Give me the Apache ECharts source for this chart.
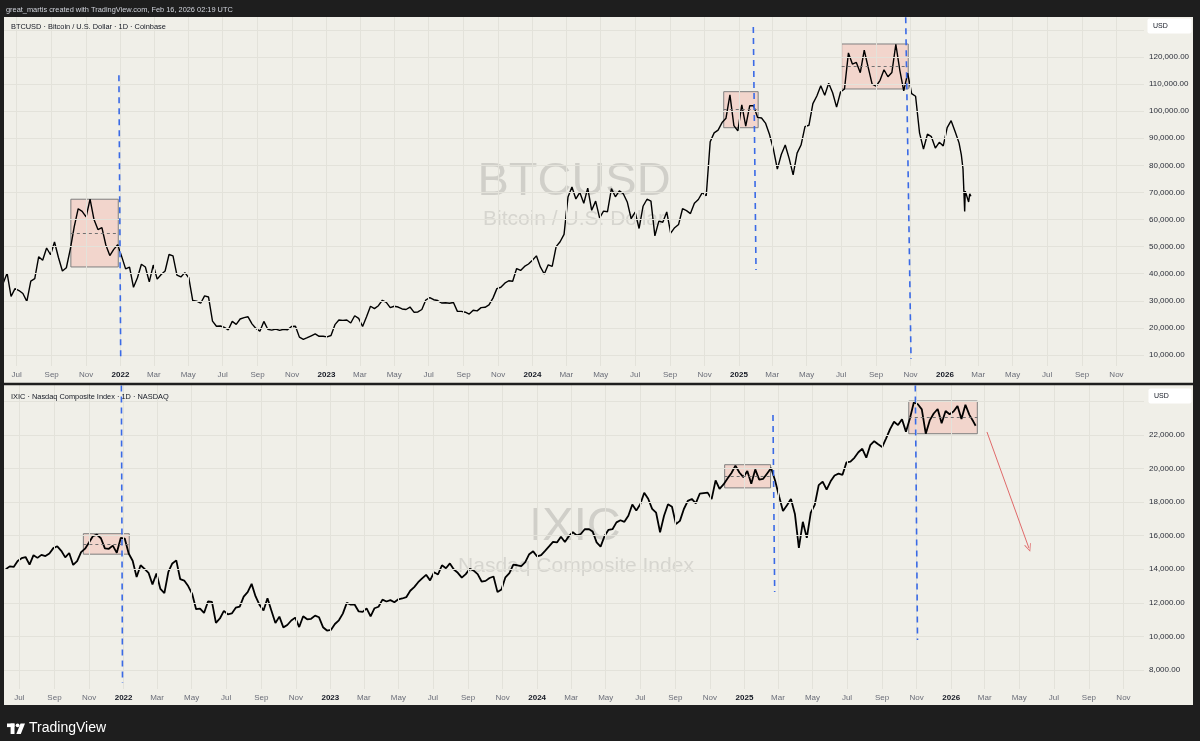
<!DOCTYPE html>
<html><head><meta charset="utf-8">
<script src="https://cdn.jsdelivr.net/npm/echarts@6/dist/echarts.min.js"></script>
<style>html,body{margin:0;padding:0;background:#1e1e1e}#c{width:1200px;height:741px}</style>
</head><body><div id="c"></div>
<script>
// ---------------- DATA ----------------
const btcStart = '2021-06-07'; // weekly samples (Mondays)
const btcWeekly = [
 36500,40200,31600,34500, 33800,32700,29800,37300, 38200,46300,45000,49500,47000, 51700,46000,41000,42200,
 49100,57400,64000,63000, 61000,67500,60000,56300,57000, 50600,46700,49000,50700,
 46400,41800,42400,35000,38500, 43500,42500,37000,43200, 38000,39700,41000,47100, 46600,39500,38800,40400,
 38500,30100,29900,29100,31800, 31400,22500,20600,20700, 20200,19300,22400,21300, 23300,23800,24100,21500,19800,
 18800,22400,19500,19200, 19600,19100,19500,19300,20500, 20600,16600,15800,16400, 17100,17800,16900,16900,
 16700,17200,21200,22900,22800, 22900,21800,24500,23500, 20500,24100,28000,27100, 28200,30200,29400,27500,
 28000,27700,27000,26800,27700, 25800,25900,26800,30300, 31200,30400,30100,29200,29300, 29100,29400,26100,26100,
 25800,25100,26500,26300, 27500,27600,28500,31000,34500, 35000,36500,37400,37200, 41900,41200,42700,43600,
 45000,46600,42500,39900,43300, 42700,50000,51800,54500, 68300,72000,67600,70000, 66000,71600,63400,66800,60600,
 63100,62900,71400,68400, 70600,69500,66500,60300, 62700,56700,64900,67500,66800, 54000,59400,59000,62800,
 55000,57000,58200,64000,63300, 62200,66000,67400,69900, 68800,88700,92000,93000, 95800,97400,106000,94700,92700,
 102300,94500,102000,102000, 97700,97500,95600,91500, 86000,78600,84000,87500,82500, 76500,84500,87500,94300,
 94800,102800,105600,109400, 105900,110300,106800,101500,107100, 108200,121500,117400,118000,
 114200,122500,116200,110000, 109200,111400,115300,112700,114300, 124700,115200,107500,114000,
 106500,105500,92000,86000, 91500,90600,86400,88500,87200,
 93900,96500,92500,88300
];
const btcTailDates  = ['2026-01-30','2026-02-02','2026-02-05','2026-02-06','2026-02-09','2026-02-12','2026-02-14','2026-02-16'];
const btcTailValues = [84000,78700,63000,70500,70000,66500,69500,68600];

const ixicStart = '2021-06-07';
const ixicWeekly = [
 14000,14175,14140,14500, 14660,14730,14275,14840, 14680,14860,14790,14940,15260, 15370,15100,14710,14970,
 14260,14490,15020,15230, 15600,15980,16060,15850,15250, 15220,15410,14980,15870,
 15830,14940,14510,13540,14240, 14020,13790,13100,13750, 12830,12580,13840,14350, 14530,13410,13330,13000,
 12540,11620,11660,11400,12080, 12060,10810,11070,11520, 11320,11370,11710,11780, 12370,12640,13130,12380,11880,
 11550,12270,11530,10800, 11180,10540,10680,10950,11120, 10560,11200,11020,11050, 11240,11140,10550,10350,
 10390,10740,10960,11360,12000, 11890,11890,11490,11460, 11670,11190,11680,11770, 12190,12080,12160,12040,
 12210,12260,12340,12720,12940, 13230,13460,13670,13340, 13820,13690,14240,14060,14350, 13990,13790,13500,13710,
 14030,13920,13710,13270, 13310,13480,13570,12640,12790, 13520,13770,14280,14240, 14190,14430,14900,15070,
 14765,14843,15100,15360,15628, 15598,15942,15630,15976, 16207,16019,16103,16384, 16396,16253,15600,15350,15983,
 16349,16388,16794,16920, 16828,17192,17862,17496, 17879,18560,18200,17600,17370, 16200,17187,17877,17725,
 16690,16884,17592,18074,18190, 17923,18502,18540,18567, 18180,19298,18791,19054, 19403,19736,20173,19764,19486,
 19860,19090,19950,19340, 19390,19710,20030,19290, 18350,17470,17810,18190,17300, 15270,16830,15870,17370,
 17840,19010,19220,18740, 19240,19590,19700,19630,20370, 20410,20640,20970,21180, 20650,21390,21630,21450,
 21280,21800,22350,22790,22590, 22940,22200,22990,23950, 23830,23530,22080,22870, 23280,23550,22700,23430,23240,
 23400,23730,22950,23800,23200,22800
];
const ixicTailDates  = ['2026-02-13'];
const ixicTailValues = [22550];

const monthNames = ['Jan','Feb','Mar','Apr','May','Jun','Jul','Aug','Sep','Oct','Nov','Dec'];
const btcTicks  = [10000,20000,30000,40000,50000,60000,70000,80000,90000,100000,110000,120000];
const btcGrid   = btcTicks.concat([130000]);
const ixicTicks = [8000,10000,12000,14000,16000,18000,20000,22000];
const ixicGrid  = ixicTicks.concat([24000]);

// annotation boxes: [from, to, top, bottom]
const btcBoxes  = [['2021-10-05','2021-12-28',67500,42500],['2024-12-05','2025-02-04',107200,93900],['2025-07-02','2025-10-28',124800,108200]];
const ixicBoxes = [['2021-10-22','2022-01-11',16120,14900],['2024-11-27','2025-02-16',20230,18850],['2025-10-18','2026-02-16',24026,22077]];
// blue dashed verticals: [date1, value1, date2, value2]
const btcVLines  = [['2021-12-29T04:00',113300,'2022-01-01T08:00',8150],['2025-01-26T10:00',131100,'2025-01-31T05:00',41400],['2025-10-23T12:00',134700,'2025-11-01T22:00',8520]];
const ixicVLines = [['2021-12-28T02:00',24950,'2021-12-30T02:00',7225],['2025-02-20T07:00',23190,'2025-02-23T07:00',12650],['2025-10-29T12:00',24950,'2025-11-02T10:00',9790]];
const ixicArrow  = ['2026-03-05',22180,'2026-05-18',15270];

const topRange = ['2021-06-08T12:00','2026-12-19T19:00'];
const botRange = ['2021-06-03T21:36','2026-12-07T05:00'];
const btcRange = [5940,134766];
const ixicRange = [6868,24979];

// ---------------- BUILD ----------------
const DAY = 86400000;
const T = s => Date.parse(s.length <= 10 ? s + 'T00:00:00Z' : s + 'Z');
const weekly = (start, vals) => { const t0 = T(start); return vals.map((v,i)=>[t0 + i*7*DAY, v]); };
const pairs = (ds, vs) => ds.map((d,i)=>[T(d), vs[i]]);
const btcData = weekly(btcStart, btcWeekly).concat(pairs(btcTailDates, btcTailValues));
const ixicData = weekly(ixicStart, ixicWeekly).concat(pairs(ixicTailDates, ixicTailValues));

const xTicks = [];
for (let y=2021, m=6; y<2027;) { xTicks.push(Date.UTC(y,m,1)); m+=2; if (m>11){m-=12;y++;} }

const FONT = 'Liberation Sans, Arial, sans-serif';
const gridColor = '#e3e2da';
const xFmt = v => { const d = new Date(v); const m = d.getUTCMonth(); return m===0 ? '{y|'+d.getUTCFullYear()+'}' : monthNames[m]; };
const yFmt = v => v.toLocaleString('en-US',{minimumFractionDigits:2,maximumFractionDigits:2});

function xAxis(gi, range){
  return {type:'value', gridIndex:gi, min:T(range[0]), max:T(range[1]),
    axisLine:{show:false}, axisTick:{show:false, customValues:xTicks}, splitLine:{show:false},
    axisLabel:{customValues:xTicks, formatter:xFmt, margin:3.5, fontSize:8, lineHeight:10, color:'#6a6d78', fontFamily:FONT,
      rich:{y:{fontWeight:'bold', color:'#131722', fontSize:8, lineHeight:10, fontFamily:FONT}}}};
}
function yAxis(gi, range, ticks){
  return {type:'value', gridIndex:gi, position:'right', min:range[0], max:range[1],
    axisLine:{show:false}, axisTick:{show:false, customValues:ticks}, splitLine:{show:false},
    axisLabel:{customValues:ticks, formatter:yFmt, margin:5, fontSize:8, color:'#2a2e39', fontFamily:FONT}};
}
function gridSeries(gi, yVals){
  return {type:'line', xAxisIndex:gi, yAxisIndex:gi, data:[], silent:true, z:0,
    markLine:{silent:true, symbol:['none','none'], label:{show:false}, emphasis:{disabled:true}, animation:false,
      lineStyle:{color:gridColor, width:1, type:'solid'},
      data: xTicks.map(t=>({xAxis:t})).concat(yVals.map(v=>({yAxis:v})))}};
}
function boxAreas(boxes){ return boxes.map(b=>[{coord:[T(b[0]),b[2]]},{coord:[T(b[1]),b[3]]}]); }
function boxMids(boxes){ return boxes.map(b=>[{coord:[T(b[0]),(b[2]+b[3])/2], lineStyle:{color:'#707070', width:1, type:[3,3]}},{coord:[T(b[1]),(b[2]+b[3])/2]}]); }
function vLines(ls){ return ls.map(l=>[{coord:[T(l[0]),l[1]], lineStyle:{color:'#3a6ae6', width:1.6, type:[6,5]}},{coord:[T(l[2]),l[3]]}]); }

function priceSeries(name, xi, data, width, boxes, lines){
  return {name, type:'line', xAxisIndex:xi, yAxisIndex:xi, data, showSymbol:false, symbol:'none', silent:true,
    lineStyle:{color:'#000', width}, z:3,
    markArea:{silent:true, itemStyle:{color:'rgba(248,135,120,0.25)', borderColor:'#7f7f7f', borderWidth:1}, data:boxAreas(boxes), label:{show:false}},
    markLine:{silent:true, symbol:['none','none'], label:{show:false}, emphasis:{disabled:true}, data:boxMids(boxes).concat(vLines(lines))}};
}

const graphic = [
  {type:'text', x:574, y:182, z:1, silent:true, style:{text:'BTCUSD', fill:'#d0cfc9', fontSize:47, fontFamily:FONT, align:'center', verticalAlign:'middle'}},
  {type:'text', x:574, y:219.5, z:1, silent:true, style:{text:'Bitcoin / U.S. Dollar', fill:'#d6d5cf', fontSize:21, fontFamily:FONT, align:'center', verticalAlign:'middle'}},
  {type:'text', x:575, y:527, z:1, silent:true, style:{text:'IXIC', fill:'#d0cfc9', fontSize:47, fontFamily:FONT, align:'center', verticalAlign:'middle'}},
  {type:'text', x:576, y:566, z:1, silent:true, style:{text:'Nasdaq Composite Index', fill:'#d6d5cf', fontSize:21, fontFamily:FONT, align:'center', verticalAlign:'middle'}},
  {type:'rect', z:100, silent:true, shape:{x:0,y:0,width:1200,height:17}, style:{fill:'#1e1e1e'}},
  {type:'rect', z:100, silent:true, shape:{x:0,y:0,width:4,height:741}, style:{fill:'#1e1e1e'}},
  {type:'rect', z:100, silent:true, shape:{x:1193,y:0,width:7,height:741}, style:{fill:'#1e1e1e'}},
  {type:'rect', z:100, silent:true, shape:{x:0,y:382.8,width:1200,height:2.4}, style:{fill:'#1e1e1e'}},
  {type:'rect', z:100, silent:true, shape:{x:0,y:705,width:1200,height:36}, style:{fill:'#1e1e1e'}},
  {type:'text', z:101, x:6, y:9.5, silent:true, style:{text:'great_martis created with TradingView.com, Feb 16, 2026 02:19 UTC', fill:'#d1d4dc', fontSize:7.4, fontFamily:FONT, verticalAlign:'middle'}},
  {type:'text', z:101, x:11, y:26.5, silent:true, style:{text:'BTCUSD · Bitcoin / U.S. Dollar · 1D · Coinbase', fill:'#131722', fontSize:7.4, fontFamily:FONT, verticalAlign:'middle'}},
  {type:'text', z:101, x:11, y:397, silent:true, style:{text:'IXIC · Nasdaq Composite Index · 1D · NASDAQ', fill:'#131722', fontSize:7.4, fontFamily:FONT, verticalAlign:'middle'}},
  {type:'rect', z:101, silent:true, shape:{x:1147.5,y:18.5,width:44,height:15,r:2}, style:{fill:'#ffffff'}},
  {type:'text', z:102, x:1153, y:26, silent:true, style:{text:'USD', fill:'#131722', fontSize:7, fontFamily:FONT, verticalAlign:'middle'}},
  {type:'rect', z:101, silent:true, shape:{x:1148.5,y:388.5,width:43,height:15,r:2}, style:{fill:'#ffffff'}},
  {type:'text', z:102, x:1154, y:396, silent:true, style:{text:'USD', fill:'#131722', fontSize:7, fontFamily:FONT, verticalAlign:'middle'}},
  {type:'rect', z:101, silent:true, shape:{x:7,y:723.5,width:7.5,height:3.6}, style:{fill:'#ffffff'}},
  {type:'rect', z:101, silent:true, shape:{x:10.6,y:723.5,width:3.9,height:10.5}, style:{fill:'#ffffff'}},
  {type:'circle', z:101, silent:true, shape:{cx:17.6,cy:725.3,r:1.9}, style:{fill:'#ffffff'}},
  {type:'polygon', z:101, silent:true, shape:{points:[[20.5,723.5],[25,723.5],[20.8,734],[16.3,734]]}, style:{fill:'#ffffff'}},
  {type:'text', z:101, x:29, y:728.5, silent:true, style:{text:'TradingView', fill:'#ffffff', fontSize:14, fontWeight:500, fontFamily:FONT, verticalAlign:'middle'}}
];

const option = {
  animation:false,
  backgroundColor:'#f0efe8',
  grid:[{left:4, top:17, width:1140, height:349}, {left:4, top:385, width:1140, height:304}],
  xAxis:[xAxis(0, topRange), xAxis(1, botRange)],
  yAxis:[yAxis(0, btcRange, btcTicks), yAxis(1, ixicRange, ixicTicks)],
  series:[
    gridSeries(0, btcGrid),
    gridSeries(1, ixicGrid),
    priceSeries('BTCUSD', 0, btcData, 1.4, btcBoxes, btcVLines),
    priceSeries('IXIC', 1, ixicData, 1.8, ixicBoxes, ixicVLines),
    {type:'line', xAxisIndex:1, yAxisIndex:1, data:[], silent:true,
     markLine:{silent:true, symbol:['none','path://M5,0 L10,9 L8.8,9 L5,2.2 L1.2,9 L0,9 Z'], symbolSize:[7,8], label:{show:false}, emphasis:{disabled:true},
       lineStyle:{color:'#e06a6a', width:1, type:'solid'},
       data:[[{coord:[T(ixicArrow[0]), ixicArrow[1]]},{coord:[T(ixicArrow[2]), ixicArrow[3]]}]]}}
  ],
  graphic
};
const chart = echarts.init(document.getElementById('c'), null, {renderer:'canvas'});
chart.setOption(option);
</script>
</body></html>
